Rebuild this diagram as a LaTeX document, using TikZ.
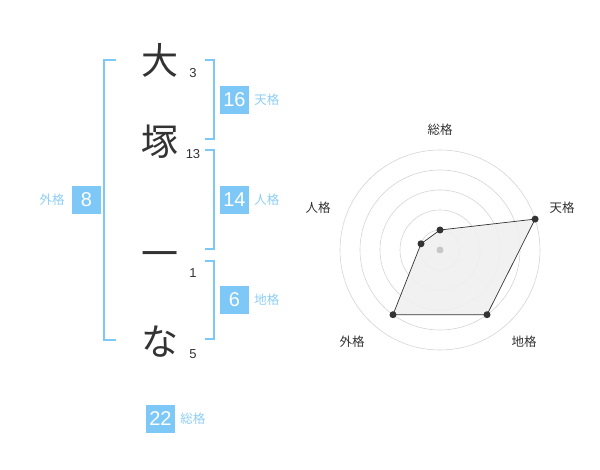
\documentclass[tikz,border=0pt]{standalone}
\usepackage{fontspec}
\setmainfont{Liberation Sans}
\newfontfamily\jp{Noto Sans CJK JP}
\usepackage{tikz}
\usetikzlibrary{positioning}
\definecolor{sky}{RGB}{126,200,248}
\definecolor{skytxt}{RGB}{140,206,246}
\definecolor{ink}{RGB}{51,51,51}
\definecolor{ring}{RGB}{212,212,212}
\definecolor{area}{RGB}{240,240,240}

\begin{document}
\begin{tikzpicture}
	[
		x=1pt, y=-1pt,
		K/.style = {inner sep=0, text=ink, font=\jp\fontsize{37}{37}\selectfont},
		S/.style = {inner sep=0, text=ink, font=\fontsize{13}{13}\selectfont},
		B/.style = {fill=sky, text=white, inner sep=0, minimum width=29pt, minimum height=28.5pt, font=\fontsize{20}{20}\selectfont},
		L/.style = {inner sep=0, text=skytxt, font=\jp\fontsize{12.5}{12.5}\selectfont},
		R/.style = {inner sep=0, text=ink, font=\jp\fontsize{12.5}{12.5}\selectfont},
		br/.style = {draw=sky, line width=1.6pt},
		dot/.style = {circle, fill=ink, inner sep=0, minimum size=7pt},
	]
	\useasboundingbox (0,0) rectangle (600,470);

	% name characters
	\node[K] (c1) 	at (160, 60) {大};
	\node[K] (c2) 	at (160,142) {塚};
	\node[K] (c3) 	at (160,260) {一};
	\node[K] (c4) 	at (160,342) {な};

	% stroke counts
	\node[S] (n1) 	at (193, 73) {3};
	\node[S] (n2) 	at (193,154) {13};
	\node[S] (n3) 	at (193,273) {1};
	\node[S] (n4) 	at (193,354) {5};

	% brackets
	\draw[br] (116, 60) -| (104,340) -- (116,340);
	\draw[br] (205, 60) -| (214,139) -- (205,139);
	\draw[br] (205,150) -| (214,249) -- (205,249);
	\draw[br] (205,261) -| (214,339) -- (205,339);

	% boxes
	\node[B] (b16) 	at (234.5,100) {16};
	\node[B] (b14) 	at (234.5,200) {14};
	\node[B] (b6) 	at (234.5,300) {6};
	\node[B] (b8) 	at ( 86.5,200) {8};
	\node[B] (b22) 	at (160.5,419) {22};

	\node[L, right=5pt of b16] (l16) {天格};
	\node[L, right=5pt of b14] (l14) {人格};
	\node[L, right=5pt of b6] (l6) {地格};
	\node[L, left=7pt of b8] (l8) {外格};
	\node[L, right=5pt of b22] (l22) {総格};

	% radar chart
	\coordinate (ctr) at (440,250);
	\foreach \r in {20,40,...,100}
	\draw[ring, line width=0.6pt] (ctr) circle[radius=\r pt];

	\coordinate (pTen) at (535.1,219.1);
	\coordinate (pSou) at (440.0,230.0);
	\coordinate (pJin) at (421.0,243.8);
	\coordinate (pGai) at (393.0,314.7);
	\coordinate (pChi) at (487.0,314.7);
	\draw[ink, fill=area, fill opacity=0.9, line width=0.7pt] (pSou) -- (pTen) -- (pChi) -- (pGai) -- (pJin) -- cycle;
	\fill[black!22] (ctr) circle[radius=3.5pt];
	\foreach \p in {pSou,pTen,pChi,pGai,pJin}
	\node[dot] at (\p) {};

	\node[R] (rSou) 	at (440,130) {総格};
	\node[R] (rTen) 	at (562,208) {天格};
	\node[R] (rJin) 	at (318,208) {人格};
	\node[R] (rGai) 	at (352,342) {外格};
	\node[R] (rChi) 	at (524,342) {地格};

\end{tikzpicture}
\end{document}
